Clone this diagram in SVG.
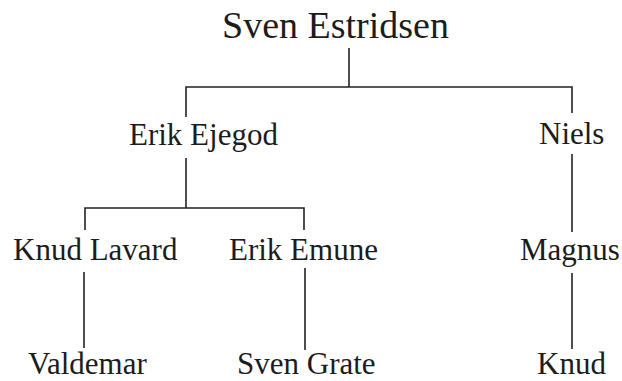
<svg xmlns="http://www.w3.org/2000/svg" width="622" height="381" viewBox="0 0 622 381">
<style>
text{font-family:'Liberation Serif','Times New Roman','DejaVu Serif',serif;fill:#1c1c1c;font-size:31px}
.root{font-size:38px}
.c path{fill:none;stroke:#222;stroke-width:1.6}
</style>
<rect width="622" height="381" fill="#fff"/>
<g class="c" id="connectors">
<path d="M349 48V87"/>
<path d="M186 117V87H572V113"/>
<path d="M186 158V208"/>
<path d="M85 230V208H304V230"/>
<path d="M572 154V232"/>
<path d="M84 272V348"/>
<path d="M305 268V350"/>
<path d="M572 273V349"/>
</g>
<g id="sven-estridsen"><text class="root" x="222" y="38" font-family="Liberation Serif, serif">Sven Estridsen</text></g>
<g id="erik-ejegod"><text x="129" y="145">Erik Ejegod</text></g>
<g id="niels"><text x="539" y="144">Niels</text></g>
<g id="knud-lavard"><text x="13" y="260">Knud Lavard</text></g>
<g id="erik-emune"><text x="229" y="260">Erik Emune</text></g>
<g id="magnus"><text x="520" y="260">Magnus</text></g>
<g id="valdemar"><text x="28" y="374">Valdemar</text></g>
<g id="sven-grate"><text x="237" y="374">Sven Grate</text></g>
<g id="knud"><text x="537" y="374">Knud</text></g>
</svg>
